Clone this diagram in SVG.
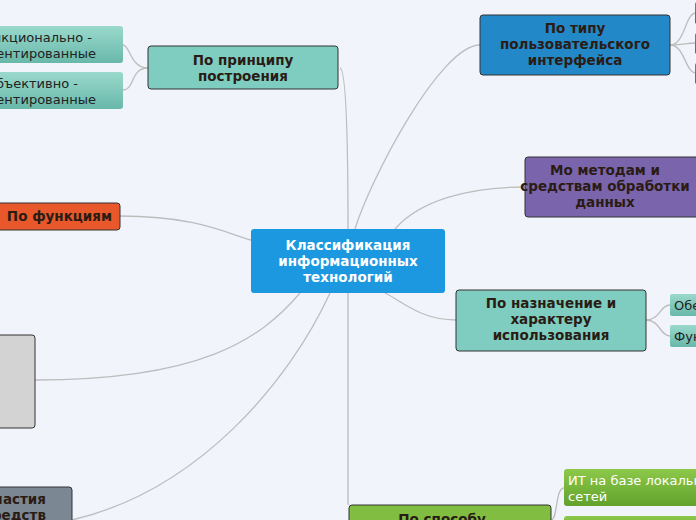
<svg xmlns="http://www.w3.org/2000/svg" width="696" height="520" viewBox="0 0 696 520">
<style>
.n{stroke:#333;stroke-width:1;}
.t{font-family:"DejaVu Sans",sans-serif;font-size:13.5px;font-weight:bold;fill:#2a1c14;text-anchor:middle}
.c{font-family:"DejaVu Sans",sans-serif;font-size:13px;fill:#222}
.l{fill:none;stroke:#bdbdbd;stroke-width:1.3}
</style>
<defs>
<linearGradient id="tg" x1="0" y1="0" x2="0" y2="1"><stop offset="0" stop-color="#9ad9cd"/><stop offset="1" stop-color="#68b8aa"/></linearGradient>
<linearGradient id="gg" x1="0" y1="0" x2="0" y2="1"><stop offset="0" stop-color="#8cc84a"/><stop offset="1" stop-color="#62a22c"/></linearGradient>
<linearGradient id="bg" x1="0" y1="0" x2="0" y2="1"><stop offset="0" stop-color="#2a95d5"/><stop offset="1" stop-color="#1a78b5"/></linearGradient>
</defs>
<rect width="696" height="520" fill="#f2f4fc"/>
<g id="connectors">
<path class="l" d="M340,68 C348,70 348,200 348,229"/>
<path class="l" d="M480,45 C440,45 370,180 355,229"/>
<path class="l" d="M525,187 C470,187 420,200 395,229"/>
<path class="l" d="M456,320 C420,320 400,300 385,293"/>
<path class="l" d="M120,216 C200,216 230,235 251,240"/>
<path class="l" d="M35,380 C200,380 260,340 300,293"/>
<path class="l" d="M72,520 C200,490 290,380 330,293"/>
<path class="l" d="M348,293 L348,505"/>
<path class="l" d="M148,68 C130,68 130,45 123,45"/>
<path class="l" d="M148,68 C130,68 135,90 123,90"/>
<path class="l" d="M670,45 C685,45 685,13 696,13"/>
<path class="l" d="M670,45 C685,45 685,43 696,43"/>
<path class="l" d="M670,45 C685,45 685,73 696,73"/>
<path class="l" d="M646,320 C660,320 660,305 670,305"/>
<path class="l" d="M646,320 C660,320 660,336 670,336"/>
<path class="l" d="M551,520 C558,520 555,488 564,488"/>
</g>
<g id="center"><rect x="251" y="229" width="194" height="64" rx="3" fill="#1b98e0"/>
<text class="t" style="fill:#fff"><tspan x="348" y="250">Классификация</tspan><tspan x="348" y="266">информационных</tspan><tspan x="348" y="282">технологий</tspan></text></g>
<g id="n-princip"><rect class="n" x="148" y="46" width="190" height="43" rx="3" fill="#7ecdc0"/>
<text class="t"><tspan x="243" y="65">По принципу</tspan><tspan x="243" y="81">построения</tspan></text></g>
<g id="n-func-or"><rect x="-10" y="26" width="133" height="37" rx="3" fill="url(#tg)"/>
<text class="c" text-anchor="end"><tspan x="92" y="42">Функционально -</tspan><tspan x="96" y="58">ориентированные</tspan></text></g>
<g id="n-obj-or"><rect x="-10" y="72" width="133" height="37" rx="3" fill="url(#tg)"/>
<text class="c" text-anchor="end"><tspan x="78" y="88">Объективно -</tspan><tspan x="96" y="104">ориентированные</tspan></text></g>
<g id="n-funcs"><rect class="n" x="-10" y="203" width="130" height="27" rx="3" fill="#e8582a"/>
<text class="t" style="text-anchor:end" x="112" y="221">По функциям</text></g>
<g id="n-gray"><rect class="n" x="-10" y="335" width="45" height="93" rx="3" fill="#d3d3d3"/></g>
<g id="n-uchastie"><rect class="n" x="-10" y="487" width="82" height="45" rx="3" fill="#7b8893"/>
<text class="t" style="text-anchor:end"><tspan x="46" y="504">участия</tspan><tspan x="46" y="520">средств</tspan></text></g>
<g id="n-sposob"><rect class="n" x="349" y="505" width="202" height="30" rx="3" fill="#80bd40"/>
<text class="t" x="442" y="524">По способу</text></g>
<g id="n-local"><rect x="564" y="469" width="140" height="37" rx="3" fill="url(#gg)"/>
<text class="c" style="fill:#fff"><tspan x="568" y="485">ИТ на базе локальных</tspan><tspan x="568" y="501">сетей</tspan></text></g>
<g id="n-global"><rect x="564" y="516" width="140" height="20" rx="3" fill="url(#gg)"/></g>
<g id="n-tip"><rect class="n" x="480" y="15" width="190" height="60" rx="3" fill="#2288c8"/>
<text class="t"><tspan x="575" y="33">По типу</tspan><tspan x="575" y="49">пользовательского</tspan><tspan x="575" y="65">интерфейса</tspan></text></g>
<g id="n-tip-c1"><rect x="695" y="2" width="10" height="22" rx="2" fill="url(#bg)"/></g>
<g id="n-tip-c2"><rect x="695" y="33" width="10" height="21" rx="2" fill="url(#bg)"/></g>
<g id="n-tip-c3"><rect x="695" y="63" width="10" height="21" rx="2" fill="url(#bg)"/></g>
<g id="n-metod"><rect class="n" x="525" y="157" width="185" height="60" rx="3" fill="#7a65ad"/>
<text class="t"><tspan x="605" y="175">Мо методам и</tspan><tspan x="605" y="191">средствам обработки</tspan><tspan x="605" y="207">данных</tspan></text></g>
<g id="n-nazn"><rect class="n" x="456" y="290" width="190" height="61" rx="3" fill="#7ecdc0"/>
<text class="t"><tspan x="551" y="308">По назначение и</tspan><tspan x="551" y="324">характеру</tspan><tspan x="551" y="340">использования</tspan></text></g>
<g id="n-obe"><rect x="670" y="294" width="40" height="22" rx="2" fill="url(#tg)"/>
<text class="c" x="674" y="310">Обеспечивающие</text></g>
<g id="n-fu"><rect x="670" y="325" width="40" height="22" rx="2" fill="url(#tg)"/>
<text class="c" x="674" y="341">Функциональные</text></g>
</svg>
